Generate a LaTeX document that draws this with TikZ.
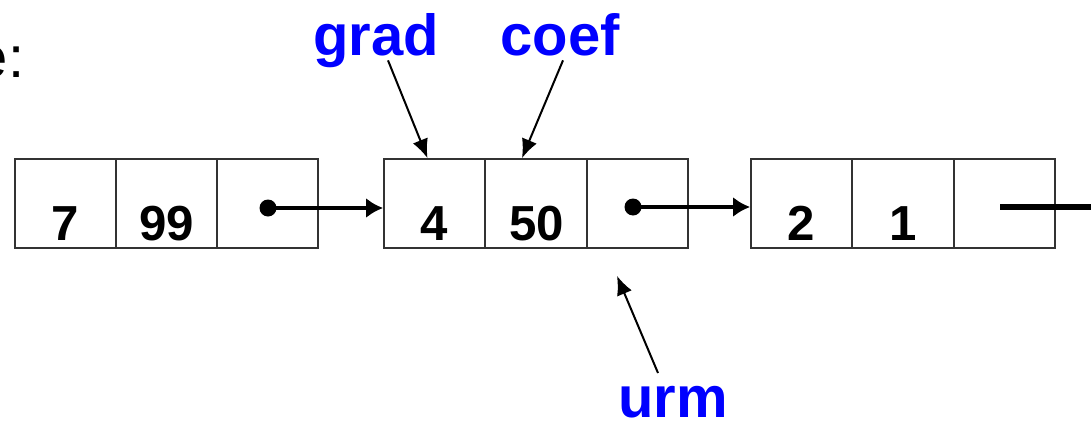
\documentclass[tikz,border=0pt]{standalone}
\usepackage{fontspec}
\setmainfont{Liberation Sans}
\usetikzlibrary{arrows.meta}

\begin{document}
\begin{tikzpicture}[x=0.02cm, y=-0.02cm,
    cell/.style={draw=black!80, line width=0.035cm, minimum width=2.02cm,
        minimum height=1.78cm, inner sep=0pt},
    num/.style={font=\fontsize{28}{34}\selectfont\bfseries, anchor=base, inner sep=0pt},
    lbl/.style={font=\fontsize{33}{40}\selectfont\bfseries, text=blue, anchor=base,
        inner sep=0pt, text depth=0pt},
    ptr/.style={line width=0.08cm, -{Latex[length=0.34cm,width=0.4cm]}},
    pin/.style={line width=0.04cm, -{Latex[length=0.38cm,width=0.32cm]}}]
    \useasboundingbox (0,0) rectangle (1091,423);

    % caption cut by the page edge
    \node[font=\fontsize{33}{40}\selectfont, anchor=base east, inner sep=0pt] (cap) at (24.5,77) {e:};

    % first record
    \node[cell] (g1) at (65.5,203.5) {};
    \node[cell] (c1) at (166.5,203.5) {};
    \node[cell] (p1) at (267.5,203.5) {};
    \node[num] (v1) at (65.5,240) {7};
    \node[num] (w1) at (166.5,240) {99};

    % second record
    \node[cell] (g2) at (434.5,203.5) {};
    \node[cell] (c2) at (536,203.5) {};
    \node[cell] (p2) at (637.5,203.5) {};
    \node[num] (v2) at (434.5,240) {4};
    \node[num] (w2) at (536.5,240) {50};

    % third record
    \node[cell] (g3) at (801.5,203.5) {};
    \node[cell] (c3) at (903,203.5) {};
    \node[cell] (p3) at (1004.5,203.5) {};
    \node[num] (v3) at (801.5,240) {2};
    \node[num] (w3) at (903,240) {1};

    % next pointers
    \coordinate (d1) at (268,208);
    \coordinate (d2) at (633,207);
    \coordinate (d3) at (1000,207);
    \coordinate (off) at (1110,207);
    \fill (d1) circle (0.17cm);
    \fill (d2) circle (0.17cm);
    \draw[ptr] (d1) -- (d1 -| g2.west);
    \draw[ptr] (d2) -- (d2 -| g3.west);
    \draw[line width=0.12cm] (d3) -- (off);

    % field names and cursor
    \node[lbl] (gl) at (376,55) {grad};
    \node[lbl] (cl) at (560,55) {coef};
    \node[lbl] (ul) at (673,417) {urm};
    \draw[pin] ([shift={(12,5)}]gl.south) -- ([shift={(-7,0)}]g2.north);
    \draw[pin] ([shift={(3,5)}]cl.south) -- ([shift={(-14,0)}]c2.north);
    \draw[pin] ([shift={(-15,-44)}]ul.base) -- ([shift={(-20.5,27)}]p2.south);
\end{tikzpicture}
\end{document}
